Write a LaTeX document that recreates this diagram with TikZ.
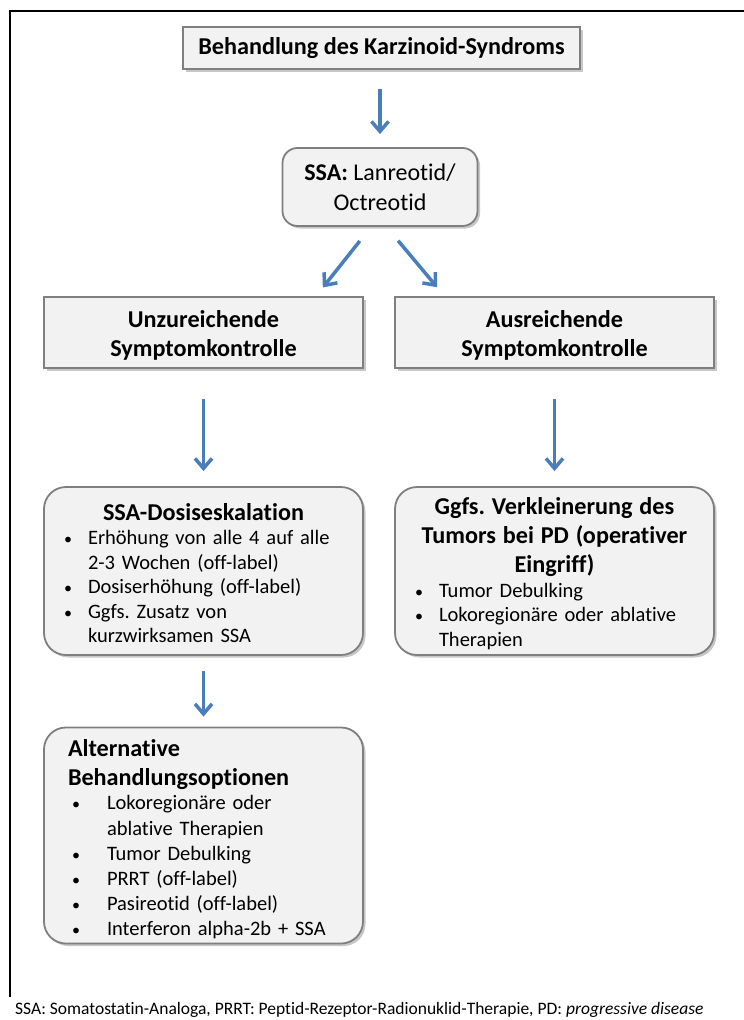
\documentclass[tikz,border=0pt]{standalone}
\usepackage{fontspec}
\setmainfont{Carlito}[Ligatures=NoCommon]
\usetikzlibrary{arrows.meta,shadows}
\frenchspacing

\definecolor{kastengrau}{HTML}{F2F2F2}
\definecolor{randgrau}{HTML}{7F7F7F}
\definecolor{pfeilblau}{HTML}{4A7EBB}

\newcommand\kopfschrift{\fontsize{24.2}{29}\selectfont\bfseries}
\newcommand\listschrift{\fontsize{20.5}{24.5}\selectfont}
\newcommand\punkt{{\fontsize{16}{0}\selectfont•}}

\tikzset{
  kasten/.style={draw=randgrau, fill=kastengrau, line width=1.8pt, inner sep=0pt,
    drop shadow={shadow xshift=2.5pt, shadow yshift=-2.5pt, opacity=0.22, fill=black}},
  eckkasten/.style={kasten, minimum width=319pt, minimum height=71pt, align=center, font=\kopfschrift},
  rundkasten/.style={kasten, rounded corners=22pt, text width=279pt, inner xsep=20pt,
    minimum height=#1, align=left, font=\listschrift},
  pfeil/.style={draw=pfeilblau, line width=3.5pt, -{Straight Barb[length=10pt,width=17pt]}},
}

\begin{document}
\begin{tikzpicture}[x=1pt,y=-1pt]
  \useasboundingbox (0,0) rectangle (744,1020);
  \draw[line width=2.5pt] (10,997) -- (10,11) -- (744,11);

  \node[kasten, minimum width=397pt, minimum height=42pt, font=\kopfschrift] (titel) at (381.5,48) {Behandlung des Karzinoid-Syndroms};
  \node[kasten, rounded corners=15pt, minimum width=195pt, minimum height=78pt, align=center,
    font=\fontsize{24}{30}\selectfont] (ssa) at (380,187) {\textbf{SSA:} Lanreotid/\\Octreotid};
  \node[eckkasten] (unzu) at (203.5,332.5) {\rule{0pt}{23pt}Unzureichende\\Symptomkontrolle};
  \node[eckkasten] (ausr) at (554.5,332.5) {\rule{0pt}{23pt}Ausreichende\\Symptomkontrolle};

  \node[rundkasten=168pt] (dosis) at (203.5,571) {{\centering\kopfschrift\rule{0pt}{28pt}SSA-Dosiseskalation\par}
    \begin{tabular}[t]{@{}p{24pt}@{}l@{}}
      \punkt & Erhöhung von alle 4 auf alle\\
             & 2-3 Wochen (off-label)\\
      \punkt & Dosiserhöhung (off-label)\\
      \punkt & Ggfs. Zusatz von\\
             & kurzwirksamen SSA
    \end{tabular}};
  \node[rundkasten=168pt] (verkl) at (554.5,571) {{\centering\kopfschrift\rule{0pt}{26pt}Ggfs. Verkleinerung des\\Tumors bei PD (operativer\\Eingriff)\par}
    \begin{tabular}[t]{@{}p{24pt}@{}l@{}}
      \punkt & Tumor Debulking\\
      \punkt & Lokoregionäre oder ablative\\
             & Therapien
    \end{tabular}};
  \node[rundkasten=211pt, text width=271pt, inner xsep=24pt] (altern) at (203.5,835.5) {{\kopfschrift\rule{0pt}{29pt}Alternative\\Behandlungsoptionen\par}
    \fontsize{20.5}{25.2}\selectfont
    \begin{tabular}[t]{@{\hspace{4pt}}p{35pt}@{}l@{}}
      \punkt & Lokoregionäre oder\\
             & ablative Therapien\\
      \punkt & Tumor Debulking\\
      \punkt & PRRT (off-label)\\
      \punkt & Pasireotid (off-label)\\
      \punkt & Interferon alpha-2b + SSA
    \end{tabular}};

  \node[anchor=base west, inner sep=0pt, font=\fontsize{17.5}{20}\selectfont] (fuss) at (15,1014)
    {SSA: Somatostatin-Analoga, PRRT: Peptid-Rezeptor-Radionuklid-Therapie, PD: \textit{progressive disease}};

  \draw[pfeil, shorten <=19pt, shorten >=13pt] (ssa.north |- titel.south) -- (ssa.north);
  \draw[pfeil, shorten <=18pt, shorten >=11pt] ([xshift=-9pt]ssa.south) -- ([xshift=112.5pt]unzu.north);
  \draw[pfeil, shorten <=18pt, shorten >=11.6pt] ([xshift=6.6pt]ssa.south) -- ([xshift=-110pt]ausr.north);
  \draw[pfeil, shorten <=30pt, shorten >=15pt] (unzu) -- (dosis);
  \draw[pfeil, shorten <=30pt, shorten >=15pt] (ausr) -- (verkl);
  \draw[pfeil, shorten <=15pt, shorten >=10pt] (dosis) -- (altern);
\end{tikzpicture}
\end{document}
